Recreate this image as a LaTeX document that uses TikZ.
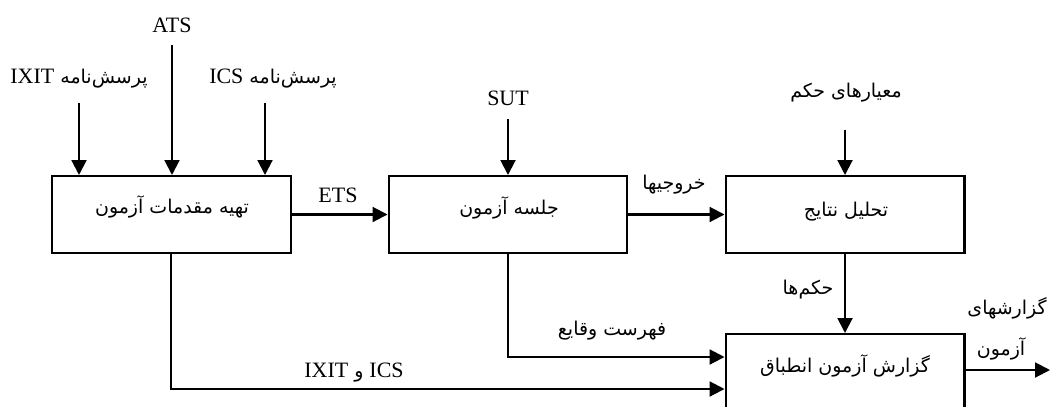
\documentclass[tikz,border=0pt]{standalone}
\usepackage{fontspec}
\setmainfont{Liberation Serif}
\newfontfamily\fa[Script=Arabic]{DejaVu Sans}
\TeXXeTstate=1
\usetikzlibrary{arrows.meta}
\newcommand\lat[1]{{\rmfamily\fontsize{12.5}{14}\selectfont #1}}
\begin{document}
\begin{tikzpicture}[x=0.02cm,y=-0.02cm,
  box/.style={draw,line width=1.15pt,rectangle,inner sep=0pt},
  arr/.style={line width=1.15pt,-{Triangle[length=8.5pt,width=8.5pt]}},
  lt/.style={inner sep=0pt,font=\fontsize{12.5}{14}\selectfont},
  pt/.style={inner sep=0pt,font=\fa\fontsize{10.8}{13}\selectfont}]
\useasboundingbox (0,0) rectangle (1050,406);
% boxes
\node[box,minimum width=4.78cm,minimum height=1.54cm] (b1) at (171.5,214.5) {};
\node[box,minimum width=4.78cm,minimum height=1.54cm] (b2) at (508,214.5) {};
\node[box,minimum width=4.78cm,minimum height=1.54cm] (b3) at (845,214.5) {};
\node[box,minimum width=4.78cm,minimum height=1.80cm] (b4) at (845,379) {};
% box texts
\node[pt] (t1) at (172,207) {\beginR تهیه مقدمات آزمون\endR};
\node[pt] (t2) at (509,208) {\beginR جلسه آزمون\endR};
\node[pt] (t3) at (846,212) {\beginR تحلیل نتایج\endR};
\node[pt] (t4) at (845,366) {\beginR گزارش آزمون انطباق\endR};
% top labels
\node[lt] (ats) at (172,25) {ATS};
\node[pt] (ixit) at (79,79) {\beginR پرسش‌نامه \beginL\lat{IXIT}\endL\endR};
\node[pt] (icsq) at (273,79) {\beginR پرسش‌نامه \beginL\lat{ICS}\endL\endR};
\node[lt] (sut) at (508,98) {SUT};
\node[pt] (crit) at (846,93) {\beginR معیارهای حکم\endR};
% free ends
\coordinate (ixitS) at (79,103);
\coordinate (atsS) at (172,45);
\coordinate (icsS) at (265,103);
\coordinate (sutS) at (508,119);
\coordinate (critS) at (845,130);
\coordinate (outE) at (1050,370);
\coordinate (c1) at (171,389);
\coordinate (c2) at (508,357);
% input arrows
\draw[arr] (ixitS) -- (ixitS |- b1.north);
\draw[arr] (atsS) -- (atsS |- b1.north);
\draw[arr] (icsS) -- (icsS |- b1.north);
\draw[arr] (sutS) -- (sutS |- b2.north);
\draw[arr] (critS) -- (critS |- b3.north);
% flow arrows
\draw[arr] (b1.east) -- (b2.west);
\node[lt] (ets) at (338,195) {ETS};
\draw[arr] (b2.east) -- (b3.west);
\node[pt] (outs) at (674,185) {\beginR خروجیها\endR};
\draw[arr] (b3.south) -- (b4.north);
\node[pt] (verd) at (808,290) {\beginR حکم‌ها\endR};
\draw[arr] (b2.south) -- (c2) -- (c2 -| b4.west);
\node[pt] (evt) at (612,331) {\beginR فهرست وقایع\endR};
\draw[arr] (b1.south -| c1) -- (c1) -- (c1 -| b4.west);
\node[pt] (icsixit) at (354,373) {\beginR\beginL\lat{ICS}\endL{} و \beginL\lat{IXIT}\endL\endR};
\draw[arr] (b4.east |- outE) -- (outE);
\node[pt] (rep1) at (1007,308) {\beginR گزارشهای\endR};
\node[pt] (rep2) at (1001,349) {\beginR آزمون\endR};
\end{tikzpicture}
\end{document}
